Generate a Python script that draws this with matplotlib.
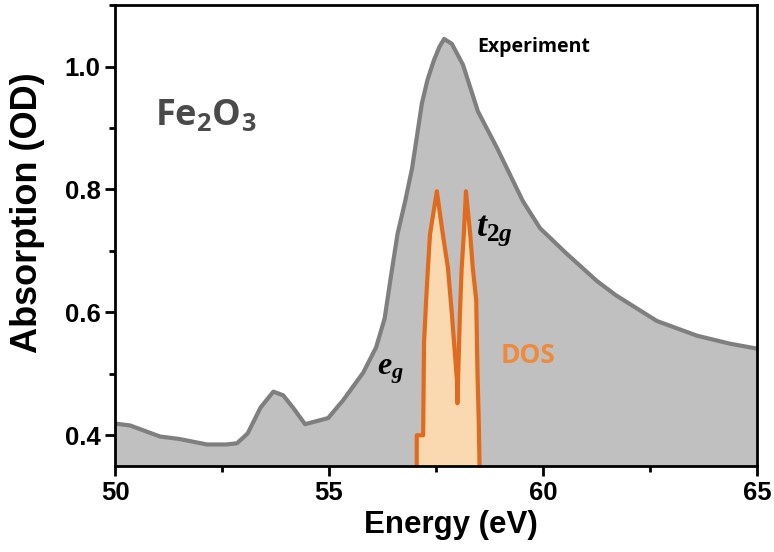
import matplotlib
matplotlib.use('Agg')
import matplotlib.pyplot as plt
from matplotlib.ticker import MultipleLocator

energy = [50.0, 50.35, 51.05, 51.5, 52.15, 52.6, 52.85, 53.1, 53.4, 53.7,
          53.93, 54.17, 54.44, 54.98, 55.33, 55.8, 56.1, 56.3, 56.45, 56.6,
          56.78, 56.94, 57.06, 57.17, 57.3, 57.45, 57.58, 57.69, 57.87, 58.13,
          58.48, 58.93, 59.53, 59.93, 60.56, 61.26, 61.7, 62.66, 63.6, 64.37, 65.0]
absorption = [0.419, 0.416, 0.398, 0.394, 0.385, 0.385, 0.387, 0.403, 0.445, 0.471,
              0.465, 0.444, 0.418, 0.428, 0.457, 0.502, 0.543, 0.590, 0.660, 0.727,
              0.781, 0.834, 0.889, 0.940, 0.978, 1.010, 1.032, 1.045, 1.037, 1.003,
              0.927, 0.867, 0.781, 0.737, 0.695, 0.651, 0.628, 0.586, 0.562, 0.549, 0.541]

# Calculated DOS (scaled onto absorption axis)
dos_energy = [57.05, 57.05, 57.2, 57.22, 57.27, 57.31, 57.36, 57.52, 57.66, 57.78,
              57.87, 57.99, 58.0, 58.06, 58.1, 58.15, 58.2, 58.3, 58.36, 58.44,
              58.47, 58.5, 58.53]
dos = [0.30, 0.40, 0.40, 0.55, 0.62, 0.67, 0.727, 0.797, 0.727, 0.672,
       0.598, 0.489, 0.452, 0.600, 0.672, 0.727, 0.797, 0.727, 0.672, 0.62,
       0.50, 0.42, 0.30]

plt.rcParams['mathtext.fontset'] = 'custom'
plt.rcParams['mathtext.it'] = 'Liberation Serif:italic:bold'
plt.rcParams['mathtext.rm'] = 'Liberation Serif:bold'

fig = plt.figure(figsize=(7.74, 5.52), dpi=100)
ax = fig.add_axes([0.1486, 0.1558, 0.8294, 0.8350])

ax.fill_between(energy, absorption, 0.3, color='#c0c0c0', lw=0, zorder=1)
ax.plot(energy, absorption, color='#7f7f7f', lw=3, zorder=2)

ax.fill_between(dos_energy, dos, 0.3, color='#fad9b0', lw=0, zorder=3)
ax.plot(dos_energy, dos, color='#e06b1f', lw=3, zorder=4)

ax.set_xlim(50, 65)
ax.set_ylim(0.35, 1.10)
ax.xaxis.set_major_locator(MultipleLocator(5))
ax.xaxis.set_minor_locator(MultipleLocator(2.5))
ax.yaxis.set_minor_locator(MultipleLocator(0.1))
ax.set_yticks([0.4, 0.6, 0.8, 1.0])

for s in ax.spines.values():
    s.set_linewidth(2)
    s.set_zorder(5)
ax.tick_params(which='major', direction='out', length=7, width=2)
ax.tick_params(which='minor', direction='out', length=4, width=2)
ax.tick_params(top=False, right=False, which='both')

for lab in ax.get_xticklabels() + ax.get_yticklabels():
    lab.set_family('Liberation Sans')
    lab.set_fontweight('bold')
    lab.set_fontsize(18.5)

ax.set_xlabel('Energy (eV)', family='Liberation Sans', weight='bold', fontsize=22.5)
ax.set_ylabel('Absorption (OD)', family='Liberation Sans', weight='bold', fontsize=26)
ax.xaxis.set_label_coords(0.523, -0.095)
ax.yaxis.set_label_coords(-0.109, 0.549)

ax.text(50.93, 0.92, r'$\mathregular{Fe_2O_3}$', family='Open Sans', weight='bold',
        fontsize=26, color='#4a4a4a', ha='left', va='center')
ax.text(58.46, 1.032, 'Experiment', family='Open Sans', weight='bold', fontsize=14,
        color='black', ha='left', va='center')
ax.text(58.44, 0.732, r'$t_{2g}$', fontsize=26, color='black', ha='left', va='center')
ax.text(56.12, 0.505, r'$e_g$', fontsize=23, color='black', ha='left', va='center')
ax.text(59.0, 0.53, 'DOS', family='Open Sans', weight='bold', fontsize=19,
        color='#ee8a3a', ha='left', va='center')

fig.savefig('out.png', dpi=100)
